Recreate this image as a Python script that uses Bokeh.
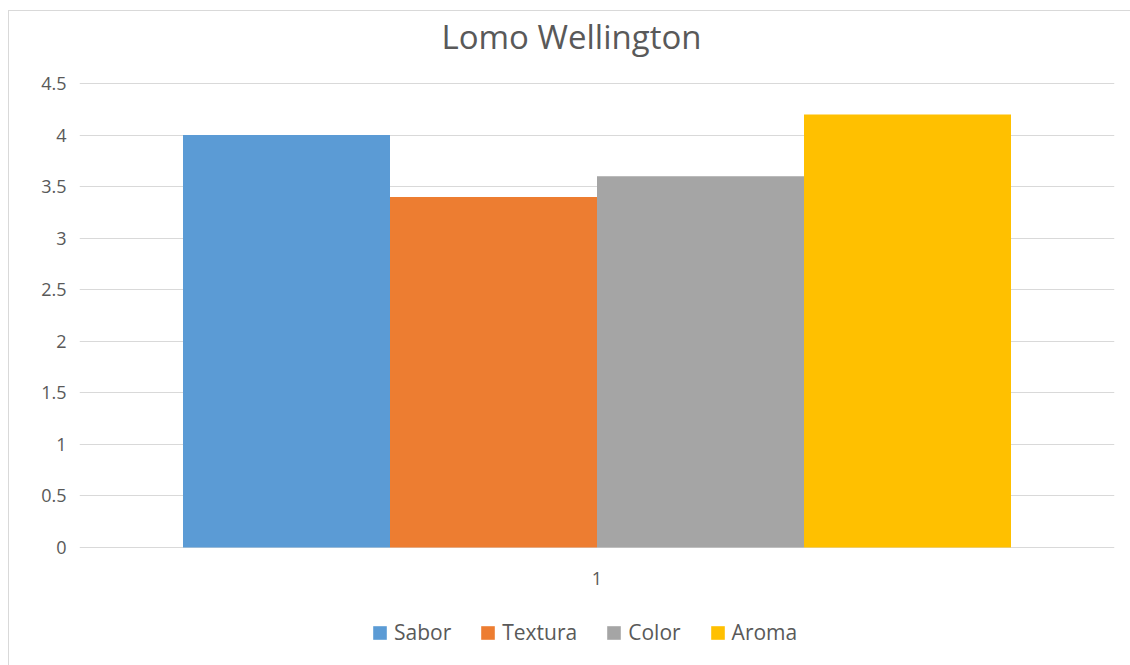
from bokeh.plotting import figure
from bokeh.models import (FactorRange, Range1d, FixedTicker, Legend, LegendItem, Label)
from bokeh.core.properties import value
from bokeh.transform import dodge
from bokeh.embed import file_html
from bokeh.resources import INLINE

# ---- data ----
categories = ["1"]
series_names = ["Sabor", "Textura", "Color", "Aroma"]
sabor = [4.0]
textura = [3.4]
color = [3.6]
aroma = [4.2]
y_ticks = [0, 0.5, 1, 1.5, 2, 2.5, 3, 3.5, 4, 4.5]
y_tick_labels = ["0", "0.5", "1", "1.5", "2", "2.5", "3", "3.5", "4", "4.5"]
title_text = "Lomo Wellington"

colors = ["#5B9BD5", "#ED7D31", "#A5A5A5", "#FFC000"]
FONT = "Open Sans"
TXT = "#595959"

data = {"cat": categories, "Sabor": sabor, "Textura": textura, "Color": color, "Aroma": aroma}

# layout: frame spans the whole chart height; value axis 0..4.5 occupies 464 px
FRAME_H = 655
PLOT_TOP_PX, PLOT_H_PX = 72, 464
ppu = PLOT_H_PX / (y_ticks[-1] - y_ticks[0])
y_lo = y_ticks[0] - (FRAME_H - PLOT_TOP_PX - PLOT_H_PX) / ppu
y_hi = y_ticks[-1] + PLOT_TOP_PX / ppu

p = figure(frame_width=1035, frame_height=FRAME_H, x_range=FactorRange(*categories, range_padding=0),
           y_range=Range1d(y_lo, y_hi), output_backend="svg", toolbar_location=None,
           min_border_left=70, min_border_right=17, min_border_top=0, min_border_bottom=0)
p.margin = (10, 0, 0, 8)
p.styles = {"border-left": "1px solid #d9d9d9", "border-top": "1px solid #d9d9d9"}
p.outline_line_color = None
p.background_fill_color = "white"
p.border_fill_color = "white"
p.xaxis.visible = False

# title (screen units relative to frame bottom-left)
p.add_layout(Label(x=492, y=630, x_units="screen", y_units="screen", text=title_text,
                   text_align="center", text_baseline="middle", text_font=FONT,
                   text_font_size="33px", text_color=TXT))

bar_w = 0.2
offsets = [-0.3, -0.1, 0.1, 0.3]
renderers = []
for name, off, c in zip(series_names, offsets, colors):
    r = p.vbar(x=dodge("cat", off, range=p.x_range), top=name, width=bar_w, bottom=0,
               source=data, fill_color=c, line_color=None)
    renderers.append(r)

# category label under the baseline
p.text(x="cat", y=0, text="cat", source=data, y_offset=31, text_align="center",
       text_baseline="middle", text_font=value(FONT),
       text_font_size="18px", text_color=TXT)

p.xgrid.grid_line_color = None
p.ygrid.grid_line_color = "#d9d9d9"
p.ygrid.grid_line_width = 1
p.ygrid.ticker = FixedTicker(ticks=y_ticks)

p.yaxis.ticker = FixedTicker(ticks=y_ticks)
p.yaxis.major_label_overrides = {t: l for t, l in zip(y_ticks, y_tick_labels)}
ax = p.yaxis[0]
ax.axis_line_color = None
ax.major_tick_line_color = None
ax.minor_tick_line_color = None
ax.major_tick_out = 0
ax.major_tick_in = 0
ax.major_label_text_font = FONT
ax.major_label_text_font_size = "18px"
ax.major_label_text_color = TXT
ax.major_label_standoff = 13

legend = Legend(items=[LegendItem(label=n, renderers=[r]) for n, r in zip(series_names, renderers)],
                orientation="horizontal", location=(292, 20),
                label_text_font=FONT, label_text_font_size="21px", label_text_color=TXT,
                glyph_width=17, glyph_height=17, label_standoff=6, spacing=28,
                border_line_color=None, background_fill_alpha=0, margin=0, padding=0)
p.add_layout(legend)

open("out.html", "w").write(file_html(p, INLINE))
